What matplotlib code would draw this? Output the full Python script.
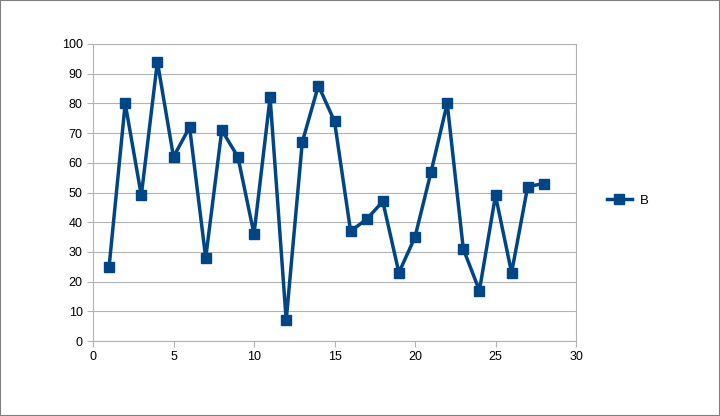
import matplotlib
matplotlib.use("Agg")
import matplotlib.pyplot as plt
from matplotlib.patches import Rectangle

x_values = list(range(1, 29))
b_values = [25, 80, 49, 94, 62, 72, 28, 71, 62, 36, 82, 7, 67, 86, 74, 37, 41, 47,
            23, 35, 57, 80, 31, 17, 49, 23, 52, 53]
x_ticks = [0, 5, 10, 15, 20, 25, 30]
y_ticks = list(range(0, 101, 10))

plt.rcParams['font.family'] = ['Liberation Sans', 'DejaVu Sans']

fig = plt.figure(figsize=(7.2, 4.16), dpi=100)
ax = fig.add_axes([93/720, 1-341/416, (576-93)/720, (341-44)/416])

color = '#004586'
ax.plot(x_values, b_values, color=color, lw=2.5, marker='s', markersize=7.5,
        label='B', solid_joinstyle='miter')

ax.set_xlim(0, 30)
ax.set_ylim(0, 100)
ax.set_xticks(x_ticks)
ax.set_yticks(y_ticks)
ax.grid(axis='y', color='#b3b3b3', lw=0.8)
ax.set_axisbelow(True)
for s in ax.spines.values():
    s.set_color('#b3b3b3')
    s.set_linewidth(0.8)
ax.tick_params(axis='both', colors='#b3b3b3', labelcolor='black', labelsize=9,
               length=4, width=0.8, direction='out')
ax.tick_params(axis='x', pad=3)

fig.legend(loc='center left', bbox_to_anchor=(600/720, 1-201/416), frameon=False,
           fontsize=9.5, handlelength=1.9, handletextpad=0.6, borderpad=0)

fig.patches.append(Rectangle((0, 0), 1, 1, transform=fig.transFigure, fill=False,
                             edgecolor='#808080', lw=1.5))
fig.savefig('out.png', dpi=100)
